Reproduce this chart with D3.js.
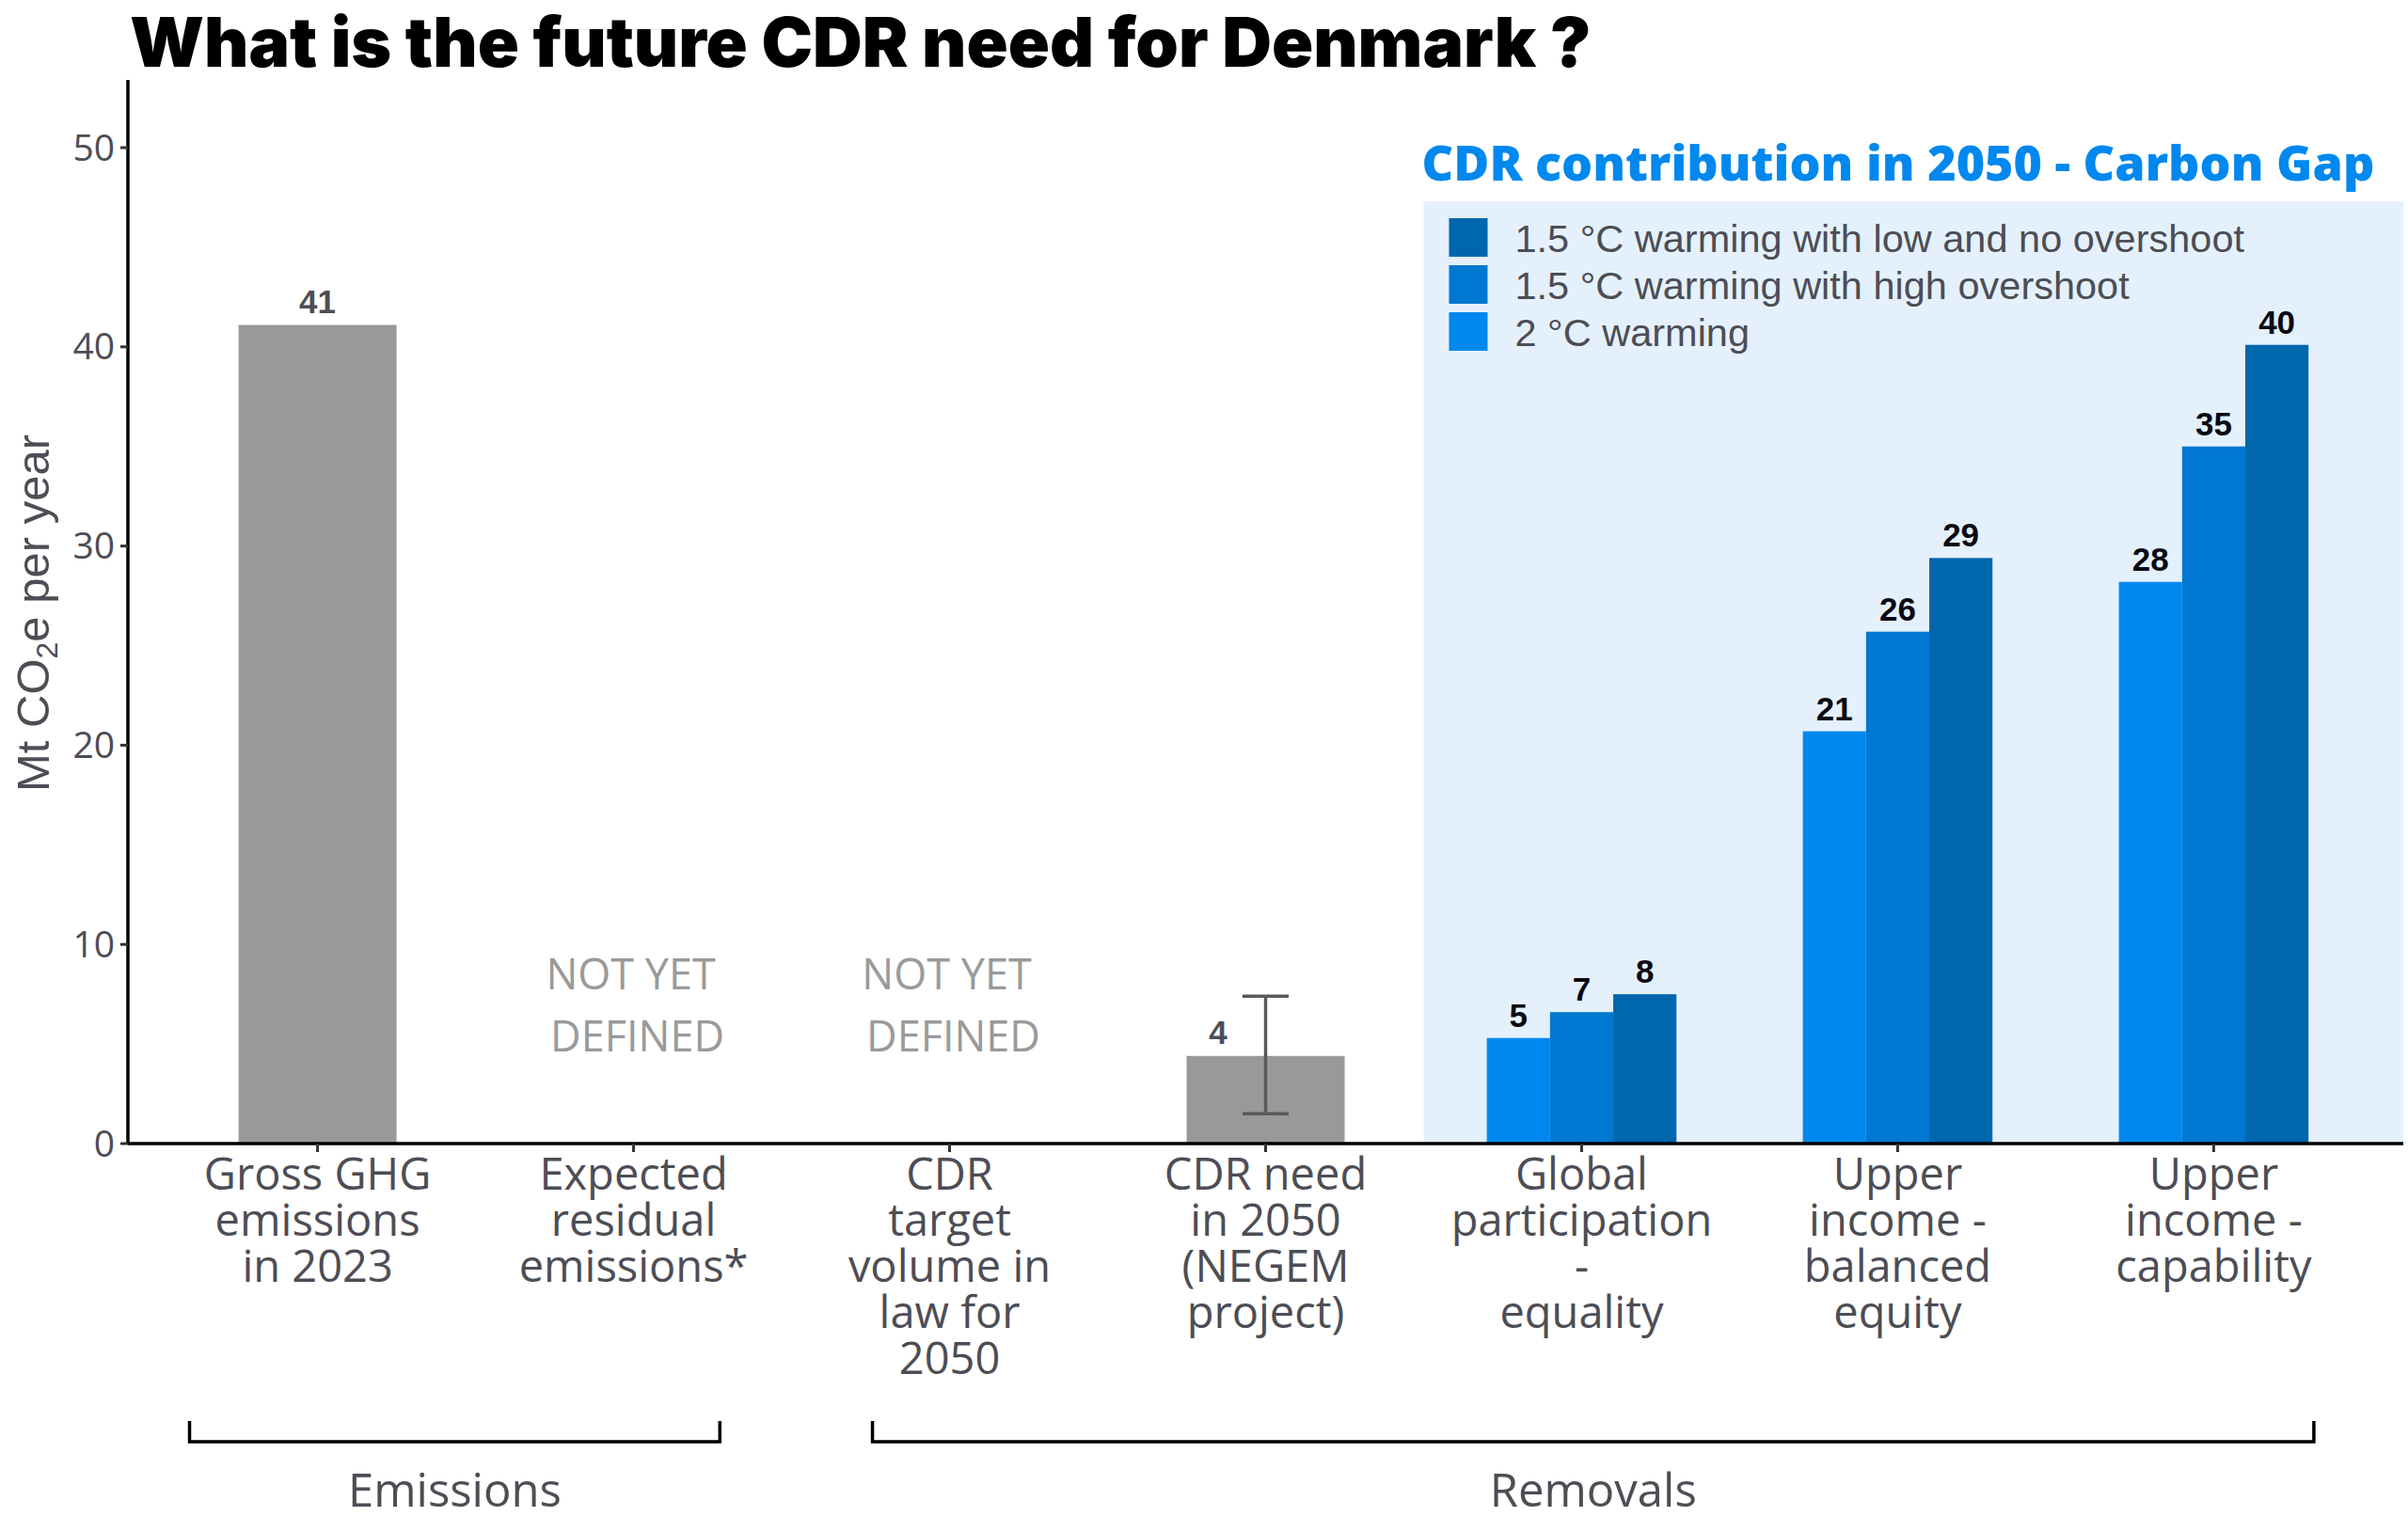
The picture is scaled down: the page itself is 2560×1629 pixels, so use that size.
<!DOCTYPE html>
<html>
<head>
<meta charset="utf-8">
<script src="https://cdn.jsdelivr.net/npm/d3@7"></script>
<style>
  body { margin: 0; background: #fff; }
  svg { display: block; }
</style>
</head>
<body>
<svg id="chart" width="2560" height="1629"></svg>
<script>
// categories on the x axis (one line per entry)
const categories = [
  ['Gross GHG', 'emissions', 'in 2023'],
  ['Expected', 'residual', 'emissions*'],
  ['CDR', 'target', 'volume in', 'law for', '2050'],
  ['CDR need', 'in 2050', '(NEGEM', 'project)'],
  ['Global', 'participation', '-', 'equality'],
  ['Upper', 'income -', 'balanced', 'equity'],
  ['Upper', 'income -', 'capability']
]
// grey bars
const greyIndex = [0, 3]
const greyValues = [41.1, 4.4]
const greyLabels = ['41', '4']
const errLow = [null, 1.5]
const errHigh = [null, 7.4]
// categories without a number
const undefinedIndex = [1, 2]
const undefinedText = ['NOT YET', 'DEFINED']
// carbon gap bars
const scenarios = ['2 °C warming', '1.5 °C warming with high overshoot', '1.5 °C warming with low and no overshoot']
const scenarioColors = ['#0088ee', '#0077d0', '#0066ae']
const gapIndex = [4, 5, 6]
const twoDegree = [5.3, 20.7, 28.2]
const highOvershoot = [6.6, 25.7, 35.0]
const lowOvershoot = [7.5, 29.4, 40.1]
const twoDegreeLabels = ['5', '21', '28']
const highOvershootLabels = ['7', '26', '35']
const lowOvershootLabels = ['8', '29', '40']
const yTicks = [0, 10, 20, 30, 40, 50]
// bottom groups
const groups = ['Emissions', 'Removals']
const groupFrom = [0, 2]
const groupTo = [1, 6]

var conf = { width: 2560, height: 1629 }
var margin = { left: 136, right: 5, top: 85, bottom: 413 }
var svg = d3.select('#chart')
var SANS = "'Open Sans', 'Noto Sans', sans-serif"
var ARIAL = "'Liberation Sans', Arial, sans-serif"
var TXT = '#4d4d55'

var x = d3.scaleBand()
    .domain(d3.range(categories.length))
    .range([margin.left, conf.width - margin.right])
    .paddingInner(0)
    .paddingOuter(0.1)
var step = x.bandwidth()
var cx = i => x(i) + step / 2
var y = d3.scaleLinear()
    .domain([0, 53.4])
    .range([conf.height - margin.bottom, margin.top])
var sub = d3.scaleBand()
    .domain(scenarios)
    .range([-0.3 * step, 0.3 * step])

// title
svg.append('text')
    .attr('x', 138).attr('y', 71)
    .attr('font-family', "Inter, 'Open Sans', sans-serif")
    .attr('font-weight', 900)
    .attr('font-size', 73)
    .attr('fill', '#000')
    .text('What is the future CDR need for Denmark ?')

// carbon gap background
svg.append('rect')
    .attr('x', cx(4) - step / 2)
    .attr('y', y(47.3))
    .attr('width', conf.width - margin.right - (cx(4) - step / 2))
    .attr('height', y(0) - y(47.3))
    .attr('fill', '#e4f1fc')

svg.append('text')
    .attr('x', cx(4) - step / 2 - 2).attr('y', 192)
    .attr('font-family', SANS)
    .attr('font-weight', 800)
    .attr('font-size', 52)
    .attr('fill', '#0088ee')
    .text('CDR contribution in 2050 - Carbon Gap')

// legend (darkest first)
var legend = svg.append('g').attr('transform', `translate(${cx(4) - step / 2 + 27},232)`)
scenarios.slice().reverse().forEach((s, i) => {
    let c = scenarioColors[scenarios.length - 1 - i]
    legend.append('rect')
        .attr('x', 0).attr('y', i * 50)
        .attr('width', 41).attr('height', 41)
        .attr('fill', c)
    legend.append('text')
        .attr('x', 70).attr('y', i * 50 + 21)
        .attr('dy', '0.35em')
        .attr('font-family', ARIAL)
        .attr('font-size', 41.5)
        .attr('fill', TXT)
        .text(s)
})

// grey bars
var bars = svg.append('g')
greyIndex.forEach((ci, k) => {
    bars.append('rect')
        .attr('x', cx(ci) - step * 0.25)
        .attr('y', y(greyValues[k]))
        .attr('width', step * 0.5)
        .attr('height', y(0) - y(greyValues[k]))
        .attr('fill', '#999999')
    let nudge = errLow[k] == null ? 0 : -0.15 * step
    bars.append('text')
        .attr('x', cx(ci) + nudge)
        .attr('y', y(greyValues[k]) - 13)
        .attr('text-anchor', 'middle')
        .attr('font-family', ARIAL)
        .attr('font-weight', 700)
        .attr('font-size', 35)
        .attr('fill', TXT)
        .text(greyLabels[k])
    if (errLow[k] != null) {
        let w = 0.073 * step
        let eb = bars.append('g').attr('stroke', '#5a5a5a').attr('stroke-width', 3.5)
        eb.append('line').attr('x1', cx(ci)).attr('x2', cx(ci)).attr('y1', y(errLow[k])).attr('y2', y(errHigh[k]))
        eb.append('line').attr('x1', cx(ci) - w).attr('x2', cx(ci) + w).attr('y1', y(errLow[k])).attr('y2', y(errLow[k]))
        eb.append('line').attr('x1', cx(ci) - w).attr('x2', cx(ci) + w).attr('y1', y(errHigh[k])).attr('y2', y(errHigh[k]))
    }
})

// not yet defined
undefinedIndex.forEach(ci => {
    undefinedText.forEach((t, j) => {
        svg.append('text')
            .attr('x', cx(ci) + (j == 0 ? -3 : 4))
            .attr('y', 1036 + j * 66)
            .attr('dy', '0.35em')
            .attr('text-anchor', 'middle')
            .attr('font-family', SANS)
            .attr('font-size', 45)
            .attr('fill', '#9a9a9a')
            .text(t)
    })
})

// carbon gap bars
var series = [twoDegree, highOvershoot, lowOvershoot]
var seriesLabels = [twoDegreeLabels, highOvershootLabels, lowOvershootLabels]
series.forEach((vals, si) => {
    let g = svg.append('g')
    g.selectAll('rect')
        .data(vals)
        .join('rect')
        .attr('x', (d, i) => cx(gapIndex[i]) + sub(scenarios[si]))
        .attr('y', d => y(d))
        .attr('width', sub.bandwidth())
        .attr('height', d => y(0) - y(d))
        .attr('fill', scenarioColors[si])
    g.selectAll('text')
        .data(vals)
        .join('text')
        .attr('x', (d, i) => cx(gapIndex[i]) + sub(scenarios[si]) + sub.bandwidth() / 2)
        .attr('y', d => y(d) - 12)
        .attr('text-anchor', 'middle')
        .attr('font-family', ARIAL)
        .attr('font-weight', 700)
        .attr('font-size', 35)
        .attr('fill', '#0a0a14')
        .text((d, i) => seriesLabels[si][i])
})

// y axis
var gy = svg.append('g')
gy.append('line')
    .attr('x1', margin.left).attr('x2', margin.left)
    .attr('y1', margin.top).attr('y2', y(0))
    .attr('stroke', '#000').attr('stroke-width', 3.5)
yTicks.forEach(t => {
    gy.append('line')
        .attr('x1', margin.left - 8).attr('x2', margin.left)
        .attr('y1', y(t)).attr('y2', y(t))
        .attr('stroke', '#333').attr('stroke-width', 3)
    gy.append('text')
        .attr('x', margin.left - 14)
        .attr('y', y(t))
        .attr('dy', '0.35em')
        .attr('text-anchor', 'end')
        .attr('font-family', SANS)
        .attr('font-size', 39)
        .attr('fill', TXT)
        .text(t)
})
var yt = gy.append('text')
    .attr('transform', `translate(52,652) rotate(-90)`)
    .attr('text-anchor', 'middle')
    .attr('font-family', ARIAL)
    .attr('font-size', 49)
    .attr('fill', TXT)
yt.append('tspan').text('Mt CO')
yt.append('tspan').attr('font-size', 32).attr('dy', 9).text('2')
yt.append('tspan').attr('dy', -9).text('e per year')

// x axis
var gx = svg.append('g')
gx.append('line')
    .attr('x1', margin.left).attr('x2', conf.width - margin.right)
    .attr('y1', y(0)).attr('y2', y(0))
    .attr('stroke', '#000').attr('stroke-width', 3.5)
categories.forEach((lines, i) => {
    gx.append('line')
        .attr('x1', cx(i)).attr('x2', cx(i))
        .attr('y1', y(0)).attr('y2', y(0) + 9)
        .attr('stroke', '#333').attr('stroke-width', 3)
    let t = gx.append('text')
        .attr('y', 1249)
        .attr('dy', '0.35em')
        .attr('text-anchor', 'middle')
        .attr('font-family', SANS)
        .attr('font-size', 47)
        .attr('fill', TXT)
    lines.forEach((l, j) => {
        t.append('tspan')
            .attr('x', cx(i))
            .attr('dy', j == 0 ? '0.35em' : 49)
            .text(l)
    })
})

// group brackets
var gb = svg.append('g')
var bracketPad = [[-0.405, 0.273], [-0.244, 0.317]]
groups.forEach((name, k) => {
    let x1 = cx(groupFrom[k]) + bracketPad[k][0] * step
    let x2 = cx(groupTo[k]) + bracketPad[k][1] * step
    gb.append('path')
        .attr('d', `M${x1},1511 V1533 H${x2} V1511`)
        .attr('fill', 'none')
        .attr('stroke', '#000')
        .attr('stroke-width', 3.5)
    gb.append('text')
        .attr('x', (x1 + x2) / 2)
        .attr('y', 1585)
        .attr('dy', '0.35em')
        .attr('text-anchor', 'middle')
        .attr('font-family', SANS)
        .attr('font-size', 49)
        .attr('fill', TXT)
        .text(name)
})
</script>
</body>
</html>
